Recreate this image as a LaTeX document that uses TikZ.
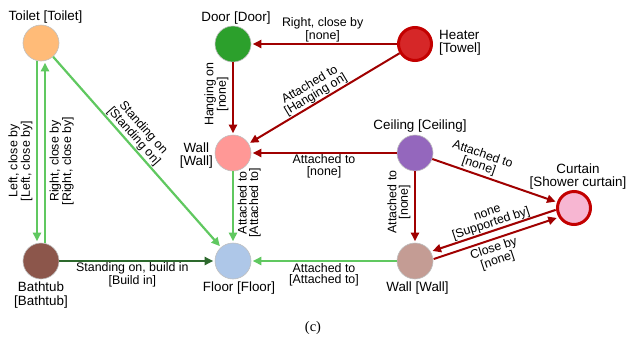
\documentclass[tikz,border=0pt]{standalone}
\usepackage{fontspec}
\setmainfont{Liberation Sans}
\newfontfamily\captionserif{Liberation Serif}
\usetikzlibrary{arrows.meta}

% palette
\definecolor{lgreen}{RGB}{96,200,96}
\definecolor{dgreen}{RGB}{45,105,45}
\definecolor{dred}{RGB}{160,0,0}
\definecolor{ringred}{RGB}{195,0,0}
\definecolor{cToilet}{HTML}{FFBB78}
\definecolor{cDoor}{HTML}{2CA02C}
\definecolor{cHeater}{HTML}{D62728}
\definecolor{cWall}{HTML}{FF9896}
\definecolor{cCeiling}{HTML}{9467BD}
\definecolor{cCurtain}{HTML}{F7B6D2}
\definecolor{cBathtub}{HTML}{8C564B}
\definecolor{cFloor}{HTML}{AEC7E8}
\definecolor{cWallB}{HTML}{C49C94}

\begin{document}
\begin{tikzpicture}[x=1pt,y=-1pt,
  obj/.style={circle, minimum size=36pt, inner sep=0pt, draw=black!25, line width=0.6pt},
  hot/.style={circle, minimum size=33pt, inner sep=0pt, draw=ringred, line width=3pt},
  nlabel/.style={font=\fontsize{13.4}{13.5}\selectfont, align=center, inner sep=0pt},
  elabel/.style={font=\fontsize{12.4}{11.5}\selectfont, align=center, inner sep=2pt},
  tip/.style={-{Triangle[length=8.5pt,width=8pt]}, shorten >=1.5pt},
  gedge/.style={draw=lgreen, line width=2.2pt, tip},
  dgedge/.style={draw=dgreen, line width=2pt, tip},
  redge/.style={draw=dred, line width=2pt, tip},
  vleft/.style={elabel, rotate=90, anchor=south, inner sep=3.5pt},
  vright/.style={elabel, rotate=90, anchor=north, inner sep=3.5pt}
]
\useasboundingbox (0,0) rectangle (627,349);
\fill[white] (0,0) rectangle (627,349);

% objects
\node[obj, fill=cToilet]  (toilet)  at (41,43)  {};
\node[obj, fill=cDoor]    (door)    at (233,44) {};
\node[hot, fill=cHeater]  (heater)  at (415,44) {};
\node[obj, fill=cWall]    (wall)    at (233,153) {};
\node[obj, fill=cCeiling] (ceiling) at (415,153) {};
\node[hot, fill=cCurtain] (curtain) at (574,208) {};
\node[obj, fill=cBathtub] (bathtub) at (41,261) {};
\node[obj, fill=cFloor]   (floor)   at (233,261) {};
\node[obj, fill=cWallB]   (wallb)   at (415,261) {};

% object names
\node[nlabel] (ltoilet)  at (45.5,17)  {Toilet [Toilet]};
\node[nlabel] (ldoor)    at (236,18)   {Door [Door]};
\node[nlabel, align=left, anchor=west] (lheater) at (439,43) {Heater\\{}[Towel]};
\node[nlabel, anchor=east] (lwall) at (213,155.5) {Wall\\{}[Wall]};
\node[nlabel] (lceiling) at (420,126)  {Ceiling [Ceiling]};
\node[nlabel] (lcurtain) at (578,176.5) {Curtain\\{}[Shower curtain]};
\node[nlabel] (lbathtub) at (41,295)   {Bathtub\\{}[Bathtub]};
\node[nlabel] (lfloor)   at (239,288)  {Floor [Floor]};
\node[nlabel] (lwallb)   at (417.5,288) {Wall [Wall]};

% relations
\draw[gedge] ([xshift=-4pt]toilet.south) -- node[vleft, pos=0.55] {Left, close by\\{}[Left, close by]} ([xshift=-4pt]bathtub.north);
\draw[gedge] ([xshift=4pt]bathtub.north) -- node[vright, pos=0.45] {Right, close by\\{}[Right, close by]} ([xshift=4pt]toilet.south);
\draw[gedge] (toilet) -- node[elabel, sloped, above, pos=0.445, inner sep=1pt] {Standing on\\{}[Standing on]} (floor);
\draw[dgedge] (bathtub) -- node[elabel, below, pos=0.47, inner sep=1pt] {Standing on, build in\\{}[Build in]} (floor);
\draw[redge] (door) -- node[vleft, pos=0.44] {Hanging on\\{}[none]} (wall);
\draw[redge] (heater) -- node[elabel, above, pos=0.51, inner sep=1pt] {Right, close by\\{}[none]} (door);
\draw[redge] (heater) -- node[elabel, sloped, above, pos=0.53, inner sep=0.5pt] {Attached to\\{}[Hanging on]} (wall);
\draw[redge] (ceiling) -- node[elabel, below, pos=0.5, inner sep=1pt] {Attached to\\{}[none]} (wall);
\draw[gedge] (wall) -- node[vright, pos=0.44] {Attached to\\{}[Attached to]} (floor);
\draw[redge] (ceiling) -- node[vleft, pos=0.43] {Attached to\\{}[none]} (wallb);
\draw[redge] (ceiling) -- node[elabel, sloped, above, pos=0.35, inner sep=2pt] {Attached to\\{}[none]} (curtain);
\draw[redge, transform canvas={shift={(-1.26pt,3.8pt)}}] (curtain) -- node[elabel, sloped, above, pos=0.5, inner sep=0.5pt] {none\\{}[Supported by]} (wallb);
\draw[redge, transform canvas={shift={(1.26pt,-3.8pt)}}] (wallb) -- node[elabel, sloped, below, pos=0.46, inner sep=2.5pt] {Close by\\{}[none]} (curtain);
\draw[gedge] (wallb) -- node[elabel, below, pos=0.5, inner sep=1pt] {Attached to\\{}[Attached to]} (floor);

% panel tag
\node[font=\captionserif\fontsize{14.5}{14.5}\selectfont, inner sep=0pt] (tag) at (313,328) {(c)};
\end{tikzpicture}
\end{document}
